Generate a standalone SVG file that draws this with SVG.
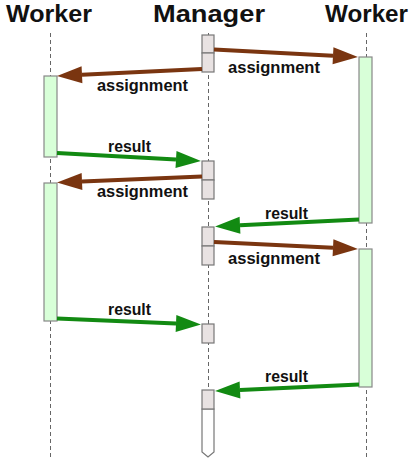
<svg xmlns="http://www.w3.org/2000/svg" width="416" height="458" viewBox="0 0 416 458">
<style>
.title{font-family:"Liberation Sans",Arial,sans-serif;font-weight:bold;font-size:24px;fill:#111}
.lbl{font-family:"Liberation Sans",Arial,sans-serif;font-weight:bold;font-size:16px;fill:#111}
.life{stroke:#666;stroke-width:1;stroke-dasharray:4,3;fill:none}
.act{fill:#d8ffd8;stroke:#888;stroke-width:1.2}
.mgr{fill:#e8e2e2;stroke:#777;stroke-width:1.2}
.end{fill:#fff;stroke:#777;stroke-width:1.2}
.asg{stroke:#7a3510;stroke-width:4;fill:none;marker-end:url(#hb)}
.res{stroke:#128a12;stroke-width:4;fill:none;marker-end:url(#hg)}
</style>
<defs>
<marker id="hb" markerUnits="userSpaceOnUse" markerWidth="26" markerHeight="18" refX="0" refY="8.5" orient="auto" overflow="visible">
<path d="M0,0 L25,8.5 L0,17 z" fill="#7a3510"/>
</marker>
<marker id="hg" markerUnits="userSpaceOnUse" markerWidth="26" markerHeight="18" refX="0" refY="8.5" orient="auto" overflow="visible">
<path d="M0,0 L25,8.5 L0,17 z" fill="#128a12"/>
</marker>
</defs>
<rect width="416" height="458" fill="#fff"/>
<g id="worker-left">
<text class="title" x="6" y="22" textLength="86" lengthAdjust="spacingAndGlyphs">Worker</text>
<line class="life" x1="50.5" y1="33" x2="50.5" y2="458"/>
<rect class="act" x="44" y="76" width="13" height="81"/>
<rect class="act" x="44" y="183" width="13" height="138"/>
</g>
<g id="manager">
<text class="title" x="153" y="22" textLength="112" lengthAdjust="spacingAndGlyphs">Manager</text>
<line class="life" x1="208.5" y1="33" x2="208.5" y2="390"/>
<rect class="mgr" x="202" y="35" width="12" height="18"/>
<rect class="mgr" x="202" y="53" width="12" height="19"/>
<rect class="mgr" x="202" y="161" width="12" height="19"/>
<rect class="mgr" x="202" y="180" width="12" height="19"/>
<rect class="mgr" x="202" y="227" width="12" height="19"/>
<rect class="mgr" x="202" y="246" width="12" height="19"/>
<rect class="mgr" x="202" y="324" width="12" height="19"/>
<path class="end" d="M202,409 L214,409 L214,452 L208,457 L202,452 z"/>
<rect class="mgr" x="202" y="390" width="12" height="19"/>
</g>
<g id="worker-right">
<text class="title" x="325" y="22" textLength="83" lengthAdjust="spacingAndGlyphs">Worker</text>
<line class="life" x1="366.5" y1="33" x2="366.5" y2="458"/>
<rect class="act" x="359" y="57" width="13" height="166"/>
<rect class="act" x="359" y="249" width="13" height="138"/>
</g>
<g id="connectors">
<line class="asg" x1="214" y1="49.5" x2="333" y2="55.7"/>
<text class="lbl" x="228" y="72.5" textLength="92" lengthAdjust="spacingAndGlyphs">assignment</text>
<line class="asg" x1="202" y1="69" x2="82" y2="74.8"/>
<text class="lbl" x="97" y="90.5" textLength="91" lengthAdjust="spacingAndGlyphs">assignment</text>
<line class="res" x1="57" y1="153" x2="176" y2="159.6"/>
<text class="lbl" x="108" y="151.5" textLength="43" lengthAdjust="spacingAndGlyphs">result</text>
<line class="asg" x1="202" y1="176.5" x2="82" y2="181.5"/>
<text class="lbl" x="97" y="197" textLength="91" lengthAdjust="spacingAndGlyphs">assignment</text>
<line class="res" x1="359" y1="219.5" x2="240" y2="225.3"/>
<text class="lbl" x="265" y="219" textLength="43" lengthAdjust="spacingAndGlyphs">result</text>
<line class="asg" x1="214" y1="242" x2="333" y2="247.8"/>
<text class="lbl" x="228" y="264" textLength="92" lengthAdjust="spacingAndGlyphs">assignment</text>
<line class="res" x1="57" y1="318.5" x2="176" y2="323.5"/>
<text class="lbl" x="108" y="315" textLength="43" lengthAdjust="spacingAndGlyphs">result</text>
<line class="res" x1="359" y1="384.5" x2="240" y2="389.9"/>
<text class="lbl" x="265" y="381.5" textLength="43" lengthAdjust="spacingAndGlyphs">result</text>
</g>
</svg>
